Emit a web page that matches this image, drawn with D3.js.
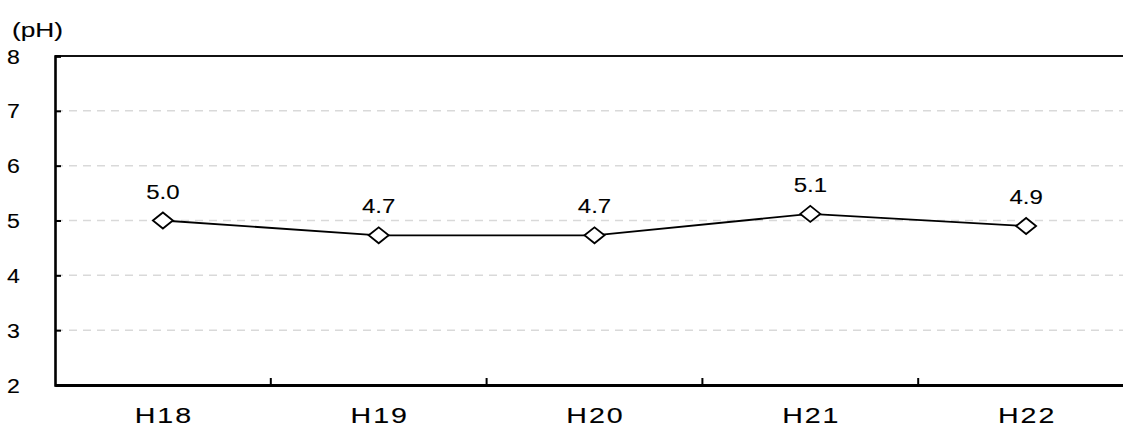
<!DOCTYPE html>
<html>
<head>
<meta charset="utf-8">
<script src="https://cdn.jsdelivr.net/npm/d3@7"></script>
<style>
  body { margin: 0; background: #fff; }
  svg { display: block; }
  text { font-family: "Liberation Sans", Arial, sans-serif; fill: #000; stroke: #000; stroke-width: 0.12px; }
</style>
</head>
<body>
<svg id="chart" width="1123" height="426"></svg>
<script>
// data
const years      = ['H18', 'H19', 'H20', 'H21', 'H22'];
const phValues   = [5.0, 4.73, 4.73, 5.12, 4.9];
const yTicks     = [2, 3, 4, 5, 6, 7, 8];
const gridTicks  = [3, 4, 5, 6, 7];

const LEFT   = 55;
const RIGHT  = 1134;   // plot runs just past the window edge
const TOP    = 56;
const BOTTOM = 385;

const svg = d3.select('#chart');

const x = d3.scaleBand().domain(years).range([LEFT, RIGHT]).padding(0);
const y = d3.scaleLinear().domain([2, 8]).range([BOTTOM, TOP]);

// dashed grid
svg.append('g')
    .selectAll('line')
    .data(gridTicks)
    .join('line')
    .attr('x1', LEFT).attr('x2', RIGHT)
    .attr('y1', d => y(d)).attr('y2', d => y(d))
    .attr('stroke', '#d9d9d9')
    .attr('stroke-width', 1.5)
    .attr('stroke-dasharray', '8,6');

// top border
svg.append('line')
    .attr('x1', LEFT).attr('x2', RIGHT)
    .attr('y1', y(8)).attr('y2', y(8))
    .attr('stroke', '#111').attr('stroke-width', 2.2);

// left axis, inward ticks
const yAxis = svg.append('g')
    .attr('transform', `translate(${LEFT},0)`)
    .call(d3.axisRight(y).tickValues(yTicks).tickSize(6).tickFormat(''));
yAxis.select('.domain').attr('stroke', '#000').attr('stroke-width', 2.6);
yAxis.selectAll('.tick line').attr('stroke', '#000').attr('stroke-width', 2);

svg.append('g')
    .selectAll('text')
    .data(yTicks)
    .join('text')
    .attr('transform', d => `translate(7,${y(d) + 7.5}) scale(1.1,1)`)
    .attr('font-size', 21)
    .text(d => d);

// bottom axis, ticks between categories pointing up
const xAxis = svg.append('g')
    .attr('transform', `translate(0,${BOTTOM})`)
    .call(d3.axisTop(x).tickSize(0).tickFormat(''));
xAxis.select('.domain').attr('stroke', '#000').attr('stroke-width', 3);

svg.append('g')
    .selectAll('line')
    .data(years.slice(1))
    .join('line')
    .attr('x1', d => x(d)).attr('x2', d => x(d))
    .attr('y1', BOTTOM).attr('y2', BOTTOM - 7)
    .attr('stroke', '#000').attr('stroke-width', 2);

svg.append('g')
    .selectAll('text')
    .data(years)
    .join('text')
    .attr('transform', d => `translate(${x(d) + x.bandwidth() / 2 + 1},423) scale(1.3,1)`)
    .attr('text-anchor', 'middle')
    .attr('font-size', 22)
    .attr('letter-spacing', 1.5)
    .text(d => d);

// unit label
svg.append('text')
    .attr('transform', 'translate(12,37) scale(1.25,1)')
    .attr('font-size', 21)
    .text('(pH)');

// line
const cx = d => x(d) + x.bandwidth() / 2;
const line = d3.line()
    .x((d, i) => cx(years[i]))
    .y(d => y(d));

svg.append('path')
    .datum(phValues)
    .attr('d', line)
    .attr('fill', 'none')
    .attr('stroke', '#000')
    .attr('stroke-width', 1.8);

// diamond markers
svg.append('g')
    .selectAll('path')
    .data(phValues)
    .join('path')
    .attr('transform', (d, i) => `translate(${cx(years[i])},${y(d)})`)
    .attr('d', 'M-10,0L0,-8L10,0L0,8Z')
    .attr('fill', '#fff')
    .attr('stroke', '#000')
    .attr('stroke-width', 1.8);

// value labels
svg.append('g')
    .selectAll('text')
    .data(phValues)
    .join('text')
    .attr('transform', (d, i) => `translate(${cx(years[i])},${y(d) - 22}) scale(1.2,1)`)
    .attr('text-anchor', 'middle')
    .attr('font-size', 20)
    .text(d => d.toFixed(1));
</script>
</body>
</html>
